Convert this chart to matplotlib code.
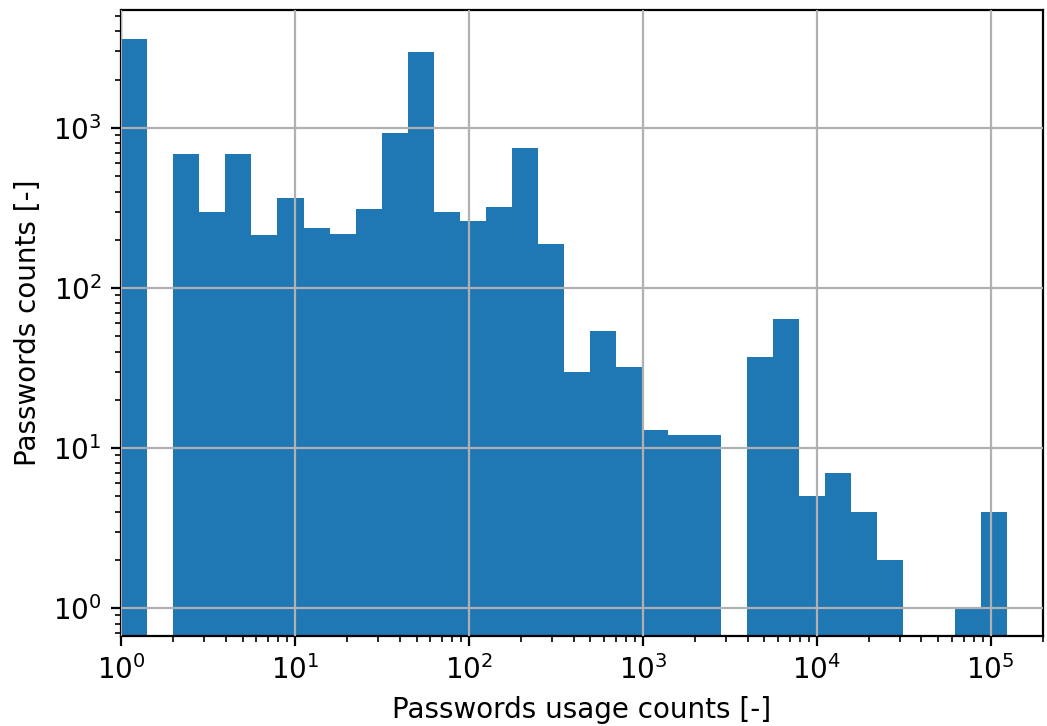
import numpy as np
import matplotlib
matplotlib.use("Agg")
import matplotlib.pyplot as plt

# Number of passwords falling in each log-spaced usage-count bin
password_counts = [3600, 0, 690, 300, 690, 215, 366, 238, 218, 313,
                   932, 2985, 300, 260, 318, 751, 189, 30, 54, 32,
                   13, 12, 12, 0, 37, 64, 5, 7, 4, 2,
                   0, 0, 1, 4]
min_usage = 1
max_usage = 124700

edges = np.logspace(np.log10(min_usage), np.log10(max_usage), len(password_counts) + 1)
centers = np.sqrt(edges[:-1] * edges[1:])

fig = plt.figure(figsize=(5.235, 3.63), dpi=200)
ax = fig.add_axes([0.1156, 0.124, 0.8806, 0.8622])
ax.hist(centers, bins=edges, weights=password_counts, color="#1f77b4", log=True)
ax.set_xscale("log")
ax.set_yscale("log")
ax.set_xlim(1, 2.0e5)
ax.set_ylim(0.669, 5447)
ax.grid(True, which="major", color="#b0b0b0", linewidth=0.8)
ax.set_axisbelow(False)
ax.set_xlabel("Passwords usage counts [-]")
ax.set_ylabel("Passwords counts [-]")

fig.savefig("out.png", dpi=200)
